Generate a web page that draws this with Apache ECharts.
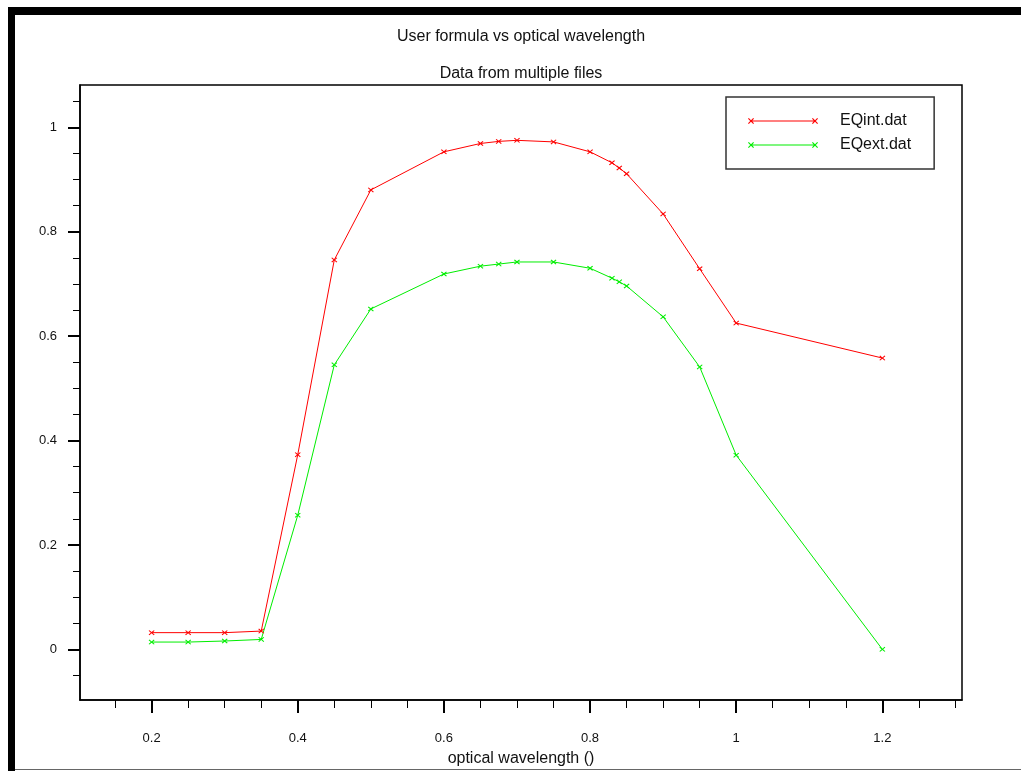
<!DOCTYPE html>
<html>
<head>
<meta charset="utf-8">
<script src="https://cdn.jsdelivr.net/npm/echarts@6/dist/echarts.min.js"></script>
<style>
html,body{margin:0;padding:0;background:#fff;}
#chart{width:1021px;height:771px;}
</style>
</head>
<body>
<div id="chart"></div>
<script>
// ---- data ----
const titleText = 'User formula vs optical wavelength';
const subTitleText = 'Data from multiple files';
const xAxisName = 'optical wavelength ()';
const seriesNames = ['EQint.dat', 'EQext.dat'];

const wavelength = [0.2, 0.25, 0.3, 0.35, 0.4, 0.45, 0.5, 0.6, 0.65, 0.675, 0.7, 0.75, 0.8, 0.83, 0.84, 0.85, 0.9, 0.95, 1.0, 1.2];
const eqInt = [0.032, 0.032, 0.032, 0.035, 0.373, 0.746, 0.880, 0.953, 0.969, 0.973, 0.975, 0.972, 0.953, 0.932, 0.922, 0.911, 0.834, 0.729, 0.625, 0.558];
const eqExt = [0.014, 0.014, 0.016, 0.019, 0.257, 0.545, 0.652, 0.719, 0.734, 0.738, 0.742, 0.742, 0.730, 0.711, 0.704, 0.696, 0.637, 0.541, 0.372, 0.0];

const xMajorTicks = [0.2, 0.4, 0.6, 0.8, 1.0, 1.2];
const xMinorTicks = [0.15, 0.25, 0.3, 0.35, 0.45, 0.5, 0.55, 0.65, 0.7, 0.75, 0.85, 0.9, 0.95, 1.05, 1.1, 1.15, 1.25, 1.3];
const yMajorTicks = [0, 0.2, 0.4, 0.6, 0.8, 1.0];
const yMinorTicks = [-0.05, 0.05, 0.1, 0.15, 0.25, 0.3, 0.35, 0.45, 0.5, 0.55, 0.65, 0.7, 0.75, 0.85, 0.9, 0.95, 1.05];

const xRange = [0.102, 1.309];
const yRange = [-0.097, 1.081];

// ---- styling ----
const FONT = 'Liberation Sans, Arial, sans-serif';
const TXT = '#111';
const markerPath = 'path://M0,0.8L0.8,0L3,2.2L5.2,0L6,0.8L3.8,3L6,5.2L5.2,6L3,3.8L0.8,6L0,5.2L2.2,3Z';
function xAt(cx, cy) {
  const h = 3, t = 0.8;
  const p = [[-h, -h + t], [-h + t, -h], [0, -t], [h - t, -h], [h, -h + t], [t, 0], [h, h - t], [h - t, h], [0, t], [-h + t, h], [-h, h - t], [-t, 0]];
  return 'M' + p.map(q => (cx + q[0]).toFixed(1) + ',' + (cy + q[1]).toFixed(1)).join('L') + 'Z';
}
const legendIcon = 'path://M0,0L0,0Z M87,18L87,18Z M3,8.5L67,8.5L67,9.5L3,9.5Z ' + xAt(3, 9) + ' ' + xAt(67, 9);

function pairs(xs, ys) { return xs.map((x, i) => [x, ys[i]]); }

const chart = echarts.init(document.getElementById('chart'), null, {renderer: 'canvas'});
chart.setOption({
  animation: false,
  backgroundColor: '#fff',
  title: [
    {text: titleText, left: 521, textAlign: 'center', top: 29, padding: 0,
     textStyle: {fontFamily: FONT, fontSize: 16, fontWeight: 'normal', color: TXT}},
    {text: subTitleText, left: 521, textAlign: 'center', top: 66, padding: 0,
     textStyle: {fontFamily: FONT, fontSize: 16, fontWeight: 'normal', color: TXT}}
  ],
  graphic: [
    {type: 'rect', shape: {x: 8, y: 7, width: 1013, height: 8}, style: {fill: '#000'}, z: 100},
    {type: 'rect', shape: {x: 8, y: 7, width: 7, height: 764}, style: {fill: '#000'}, z: 100},
    {type: 'line', shape: {x1: 15, y1: 769.5, x2: 1021, y2: 769.5}, style: {stroke: '#666', lineWidth: 1}, z: 100}
  ],
  legend: {
    orient: 'vertical',
    left: 726, top: 97,
    padding: [15, 23, 15, 22],
    itemWidth: 87, itemHeight: 18, itemGap: 6,
    symbolKeepAspect: false,
    icon: legendIcon,
    borderColor: '#333', borderWidth: 1.5,
    backgroundColor: '#fff',
    itemStyle: {borderWidth: 0},
    textStyle: {fontFamily: FONT, fontSize: 16, color: TXT},
    data: seriesNames
  },
  grid: {left: 80, top: 85, right: 59, bottom: 71, show: true, borderColor: '#000', borderWidth: 1.5,
         containLabel: false, outerBoundsMode: 'none'},
  xAxis: [
    {type: 'value', min: xRange[0], max: xRange[1], position: 'bottom',
     name: xAxisName, nameLocation: 'middle', nameGap: 51,
     nameTextStyle: {fontFamily: FONT, fontSize: 16, color: TXT},
     axisLine: {show: true, onZero: false, lineStyle: {color: '#000', width: 1.5}},
     axisTick: {show: true, inside: false, length: 13, lineStyle: {color: '#000', width: 2}, customValues: xMajorTicks},
     axisLabel: {show: true, margin: 32, fontFamily: FONT, fontSize: 13, color: TXT, customValues: xMajorTicks},
     splitLine: {show: false}},
    {type: 'value', min: xRange[0], max: xRange[1], position: 'bottom',
     axisLine: {show: false, onZero: false},
     axisTick: {show: true, inside: false, length: 8, lineStyle: {color: '#000', width: 1}, customValues: xMinorTicks},
     axisLabel: {show: false},
     splitLine: {show: false}}
  ],
  yAxis: [
    {type: 'value', min: yRange[0], max: yRange[1], position: 'left',
     axisLine: {show: true, onZero: false, lineStyle: {color: '#000', width: 1.5}},
     axisTick: {show: true, inside: false, length: 12, lineStyle: {color: '#000', width: 2}, customValues: yMajorTicks},
     axisLabel: {show: true, margin: 23, fontFamily: FONT, fontSize: 13, color: TXT, customValues: yMajorTicks},
     splitLine: {show: false}},
    {type: 'value', min: yRange[0], max: yRange[1], position: 'left',
     axisLine: {show: false, onZero: false},
     axisTick: {show: true, inside: false, length: 7, lineStyle: {color: '#000', width: 1}, customValues: yMinorTicks},
     axisLabel: {show: false},
     splitLine: {show: false}}
  ],
  series: [
    {name: seriesNames[0], type: 'line', xAxisIndex: 0, yAxisIndex: 0,
     data: pairs(wavelength, eqInt),
     symbol: markerPath, symbolSize: [6, 5], showSymbol: true,
     lineStyle: {color: '#ff0000', width: 1},
     itemStyle: {color: '#ff0000', borderWidth: 0},
     emphasis: {disabled: true}},
    {name: seriesNames[1], type: 'line', xAxisIndex: 0, yAxisIndex: 0,
     data: pairs(wavelength, eqExt),
     symbol: markerPath, symbolSize: [6, 5], showSymbol: true,
     lineStyle: {color: '#00ee00', width: 1},
     itemStyle: {color: '#00ee00', borderWidth: 0},
     emphasis: {disabled: true}}
  ]
});
</script>
</body>
</html>
